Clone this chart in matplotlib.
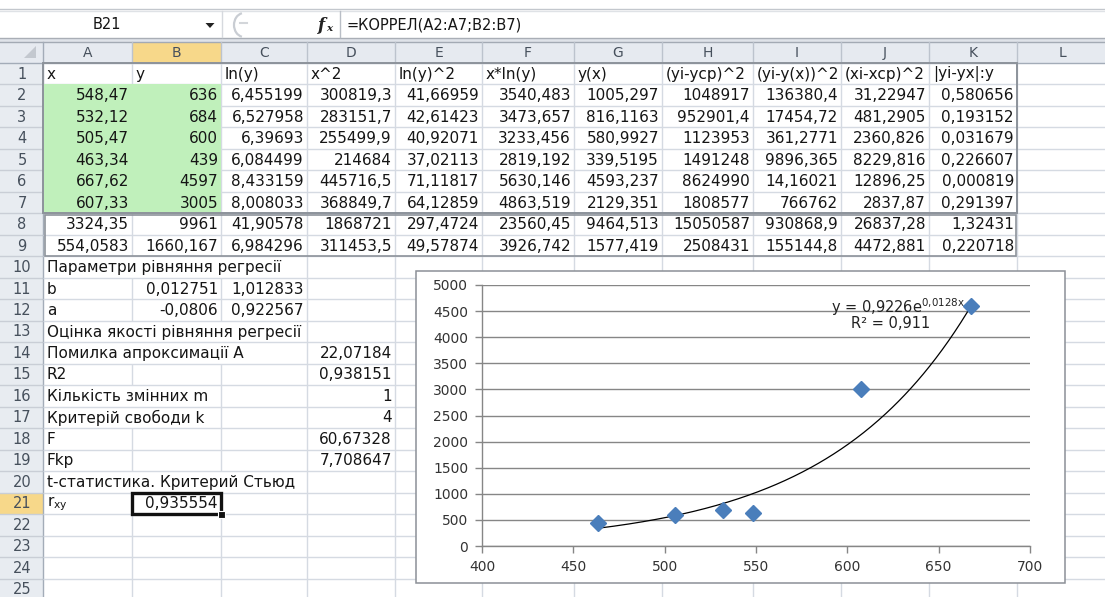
import matplotlib
matplotlib.use("Agg")
import matplotlib.pyplot as plt
import numpy as np
from matplotlib.patches import Rectangle, Polygon, Arc
from matplotlib.collections import LineCollection
from matplotlib.transforms import Bbox

# ---------------- data ----------------
x_vals = [548.47, 532.12, 505.47, 463.34, 667.62, 607.33]
y_vals = [636, 684, 600, 439, 4597, 3005]
coef_a = 0.922567
coef_b = 0.012751
eq_label = r"y = 0,9226e$^{\mathrm{0{,}0128x}}$"
r2_label = "R² = 0,911"
x_ticks = [400, 450, 500, 550, 600, 650, 700]
y_ticks = [0, 500, 1000, 1500, 2000, 2500, 3000, 3500, 4000, 4500, 5000]

headers = ["x", "y", "ln(y)", "x^2", "ln(y)^2", "x*ln(y)", "y(x)",
           "(yi-ycp)^2", "(yi-y(x))^2", "(xi-xcp)^2", "|yi-yx|:y"]
col_A = ["548,47", "532,12", "505,47", "463,34", "667,62", "607,33", "3324,35", "554,0583"]
col_B = ["636", "684", "600", "439", "4597", "3005", "9961", "1660,167"]
col_C = ["6,455199", "6,527958", "6,39693", "6,084499", "8,433159", "8,008033", "41,90578", "6,984296"]
col_D = ["300819,3", "283151,7", "255499,9", "214684", "445716,5", "368849,7", "1868721", "311453,5"]
col_E = ["41,66959", "42,61423", "40,92071", "37,02113", "71,11817", "64,12859", "297,4724", "49,57874"]
col_F = ["3540,483", "3473,657", "3233,456", "2819,192", "5630,146", "4863,519", "23560,45", "3926,742"]
col_G = ["1005,297", "816,1163", "580,9927", "339,5195", "4593,237", "2129,351", "9464,513", "1577,419"]
col_H = ["1048917", "952901,4", "1123953", "1491248", "8624990", "1808577", "15050587", "2508431"]
col_I = ["136380,4", "17454,72", "361,2771", "9896,365", "14,16021", "766762", "930868,9", "155144,8"]
col_J = ["31,22947", "481,2905", "2360,826", "8229,816", "12896,25", "2837,87", "26837,28", "4472,881"]
col_K = ["0,580656", "0,193152", "0,031679", "0,226607", "0,000819", "0,291397", "1,32431", "0,220718"]
table_cols = [col_A, col_B, col_C, col_D, col_E, col_F, col_G, col_H, col_I, col_J, col_K]

# lower block: (row, col, text, align)
lower_cells = [
    (10, 0, "Параметри рівняння регресії", "left"),
    (11, 0, "b", "left"), (11, 1, "0,012751", "right"), (11, 2, "1,012833", "right"),
    (12, 0, "a", "left"), (12, 1, "-0,0806", "right"), (12, 2, "0,922567", "right"),
    (13, 0, "Оцінка якості рівняння регресії", "left"),
    (14, 0, "Помилка апроксимації A", "left"), (14, 3, "22,07184", "right"),
    (15, 0, "R2", "left"), (15, 3, "0,938151", "right"),
    (16, 0, "Кількість змінних m", "left"), (16, 3, "1", "right"),
    (17, 0, "Критерій свободи k", "left"), (17, 3, "4", "right"),
    (18, 0, "F", "left"), (18, 3, "60,67328", "right"),
    (19, 0, "Fkp", "left"), (19, 3, "7,708647", "right"),
    (20, 0, "t-статистика. Критерий Стьюд", "left"), (20, 3, "2,776445", "right"),
    (21, 0, r"r$_{\mathregular{xy}}$", "left"), (21, 1, "0,935554", "right"),
]

name_box = "B21"
formula = "=КОРРЕЛ(A2:A7;B2:B7)"
col_letters = ["A", "B", "C", "D", "E", "F", "G", "H", "I", "J", "K", "L"]

# ---------------- layout ----------------
W, H = 1105, 597
col_edges = [43, 132, 221, 307, 395, 482, 574, 662, 753, 841, 929, 1017, 1105]
HEAD_TOP, ROW0, RH, NROWS = 42, 63, 21.48, 25

def rt(r): return ROW0 + (r - 1) * RH
def rb(r): return ROW0 + r * RH
def rc(r): return ROW0 + (r - 0.5) * RH

fig = plt.figure(figsize=(W / 100, H / 100), dpi=100)
fig.patch.set_facecolor("white")
sheet = fig.add_axes([0, 0, 1, 1])
sheet.set_xlim(0, W)
sheet.set_ylim(H, 0)
sheet.axis("off")

TXT = "#151515"
HDR_TXT = "#46505c"
GRID = "#d5dae2"
FS = 11

# ---- formula bar ----
sheet.plot([0, W], [8.5, 8.5], color="#c3c7cd", lw=1, zorder=1)
sheet.plot([0, W], [10.5, 10.5], color="#dfe2e6", lw=1, zorder=1)
sheet.plot([0, W], [37.5, 37.5], color="#a9aeb6", lw=1, zorder=1)
sheet.add_patch(Rectangle((0, 38), W, 4, facecolor="#dfe3e9", edgecolor="none", zorder=0))
sheet.plot([0, W], [41.5, 41.5], color="#a3aab4", lw=1, zorder=1)
sheet.plot([222, 222], [11, 37], color="#d6d9de", lw=1, zorder=1)
sheet.plot([340, 340], [11, 37], color="#b9bec6", lw=1, zorder=1)
sheet.text(107, 24.5, name_box, ha="center", va="center", fontsize=10.5, color=TXT)
sheet.add_patch(Polygon([[205.5, 23], [214.5, 23], [210, 28]], closed=True,
                        facecolor="#222222", edgecolor="none", zorder=2))
sheet.add_patch(Arc((244, 25), 20, 24, theta1=100, theta2=260, color="#c9cdd3", lw=1.6, zorder=2))
sheet.plot([240, 247], [22.5, 22.5], color="#d3d6da", lw=1.5, zorder=2)
sheet.text(318, 25, "f", ha="left", va="center", fontsize=12, color="#222222",
           family="DejaVu Serif", style="italic", weight="bold")
sheet.text(326, 28.5, "x", ha="left", va="center", fontsize=7.5, color="#222222",
           family="DejaVu Serif", style="italic", weight="bold")
sheet.text(347, 24.5, formula, ha="left", va="center", fontsize=10.5, color=TXT)

# ---- header row and row-number column ----
sheet.add_patch(Rectangle((0, HEAD_TOP), W, ROW0 - HEAD_TOP, facecolor="#e6eaf0",
                          edgecolor="none", zorder=0))
sheet.add_patch(Rectangle((0, ROW0), col_edges[0], H - ROW0, facecolor="#e8ecf1",
                          edgecolor="none", zorder=0))
sheet.add_patch(Rectangle((col_edges[1], HEAD_TOP), col_edges[2] - col_edges[1],
                          ROW0 - HEAD_TOP, facecolor="#f7d88a", edgecolor="none", zorder=0.5))
sheet.add_patch(Rectangle((0, rt(21)), col_edges[0], RH, facecolor="#f7d88a",
                          edgecolor="none", zorder=0.5))
sheet.add_patch(Polygon([[36, 46], [36, 58], [24, 58]], closed=True, facecolor="#c3c8cf",
                        edgecolor="none", zorder=1))
for i, L in enumerate(col_letters):
    xm = (col_edges[i] + col_edges[i + 1]) / 2
    if i == len(col_letters) - 1:
        xm = 1063
    sheet.text(xm, (HEAD_TOP + ROW0) / 2 + 0.5, L, ha="center", va="center",
               fontsize=10, color=HDR_TXT)
for xe in col_edges[1:-1]:
    sheet.plot([xe, xe], [HEAD_TOP, ROW0], color="#bcc3cd", lw=1, zorder=1)
for r in range(1, NROWS + 1):
    sheet.text(22, rc(r) + 0.5, str(r), ha="center", va="center", fontsize=10.5, color=HDR_TXT)
    sheet.plot([0, col_edges[0]], [rb(r), rb(r)], color="#c9ced6", lw=1, zorder=1)
sheet.plot([col_edges[0], col_edges[0]], [HEAD_TOP, H], color="#a3acb8", lw=1, zorder=1)
sheet.plot([0, W], [ROW0, ROW0], color="#a3acb8", lw=1, zorder=1)

# ---- cell texts ----
renderer = fig.canvas.get_renderer()
covered = {}  # row -> list of (x0, x1) covered by overflow text

def put(row, col, text, align, clip_right=None):
    if align == "left":
        t = sheet.text(col_edges[col] + 4, rc(row) + 0.5, text, ha="left", va="center",
                       fontsize=FS, color=TXT, zorder=4)
    else:
        t = sheet.text(col_edges[col + 1] - 3, rc(row) + 0.5, text, ha="right", va="center",
                       fontsize=FS, color=TXT, zorder=4)
    if clip_right is not None:
        t.set_clip_box(Bbox.from_extents(col_edges[col], 0, clip_right, H))
        t.set_clip_on(True)
    bb = t.get_window_extent(renderer)
    x1 = bb.x1 if clip_right is None else min(bb.x1, clip_right)
    covered.setdefault(row, []).append((bb.x0, x1))
    return t

for c, h in enumerate(headers):
    put(1, c, h, "left", clip_right=col_edges[c + 1] - 1)
for c, colvals in enumerate(table_cols):
    for i, v in enumerate(colvals):
        put(2 + i, c, v, "right")
for (r, c, text, al) in lower_cells:
    clip = col_edges[3] - 1 if r == 20 else None
    put(r, c, text, al, clip_right=clip)

# ---- gridlines ----
segs = []
for r in range(1, NROWS + 1):
    for xe in col_edges[1:-1]:
        if any(a < xe < b for (a, b) in covered.get(r, [])):
            continue
        segs.append([(xe, rt(r)), (xe, rb(r))])
    segs.append([(col_edges[0], rb(r)), (W, rb(r))])
sheet.add_collection(LineCollection(segs, colors=GRID, linewidths=1, zorder=1))

# green fill A2:B7
sheet.add_patch(Rectangle((col_edges[0] + 0.5, rt(2)), col_edges[2] - col_edges[0] - 0.5,
                          rb(7) - rt(2), facecolor="#c0f0bb", edgecolor="none", zorder=2))

# table borders
sheet.add_patch(Rectangle((col_edges[0], rt(1)), col_edges[11] - col_edges[0], rb(7) - rt(1),
                          facecolor="none", edgecolor="#8d939b", lw=1.4, zorder=3))
sheet.add_patch(Rectangle((col_edges[0] + 1.5, rt(8) + 2), col_edges[11] - col_edges[0] - 3,
                          rb(9) - rt(8) - 2.5, facecolor="none", edgecolor="#8d939b",
                          lw=1.2, zorder=3))

# selected cell B21
sheet.add_patch(Rectangle((col_edges[1], rt(21)), col_edges[2] - col_edges[1], RH,
                          facecolor="none", edgecolor="#111111", lw=2.4, zorder=6))
sheet.add_patch(Rectangle((col_edges[2] - 3, rb(21) - 3), 6.5, 6.5, facecolor="#111111",
                          edgecolor="white", lw=0.8, zorder=7))

# ---- chart ----
CH_X0, CH_Y0, CH_X1, CH_Y1 = 416, 271, 1065, 583
sheet.add_patch(Rectangle((CH_X0, CH_Y0), CH_X1 - CH_X0, CH_Y1 - CH_Y0, facecolor="white",
                          edgecolor="#8c9097", lw=1.1, zorder=8))

PX0, PX1, PY_TOP, PY_BOT = 482, 1030, 285, 546
ax = fig.add_axes([PX0 / W, 1 - PY_BOT / H, (PX1 - PX0) / W, (PY_BOT - PY_TOP) / H])
ax.set_facecolor("none")
ax.set_xlim(x_ticks[0], x_ticks[-1])
ax.set_ylim(y_ticks[0], y_ticks[-1])
ax.set_xticks(x_ticks)
ax.set_yticks(y_ticks)
for s in ["top", "right"]:
    ax.spines[s].set_visible(False)
for s in ["left", "bottom"]:
    ax.spines[s].set_color("#868686")
    ax.spines[s].set_linewidth(1)
ax.yaxis.grid(True, color="#868686", lw=1)
ax.set_axisbelow(True)
ax.tick_params(direction="out", length=5, width=1, color="#868686", labelsize=10,
               labelcolor="#333333", pad=5)

xs = np.linspace(min(x_vals), max(x_vals), 300)
ax.plot(xs, coef_a * np.exp(coef_b * xs), color="black", lw=0.9, zorder=3)
ax.plot(x_vals, y_vals, linestyle="none", marker="D", markersize=8.5,
        color="#4a7ebb", markeredgecolor="#4a7ebb", zorder=4, clip_on=False)

ax.text(898, 307, eq_label, transform=sheet.transData, ha="center", va="center",
        fontsize=10.5, color="#222222")
ax.text(891, 324, r2_label, transform=sheet.transData, ha="center", va="center",
        fontsize=10.5, color="#222222")

fig.savefig("out.png", dpi=100, facecolor="white")
